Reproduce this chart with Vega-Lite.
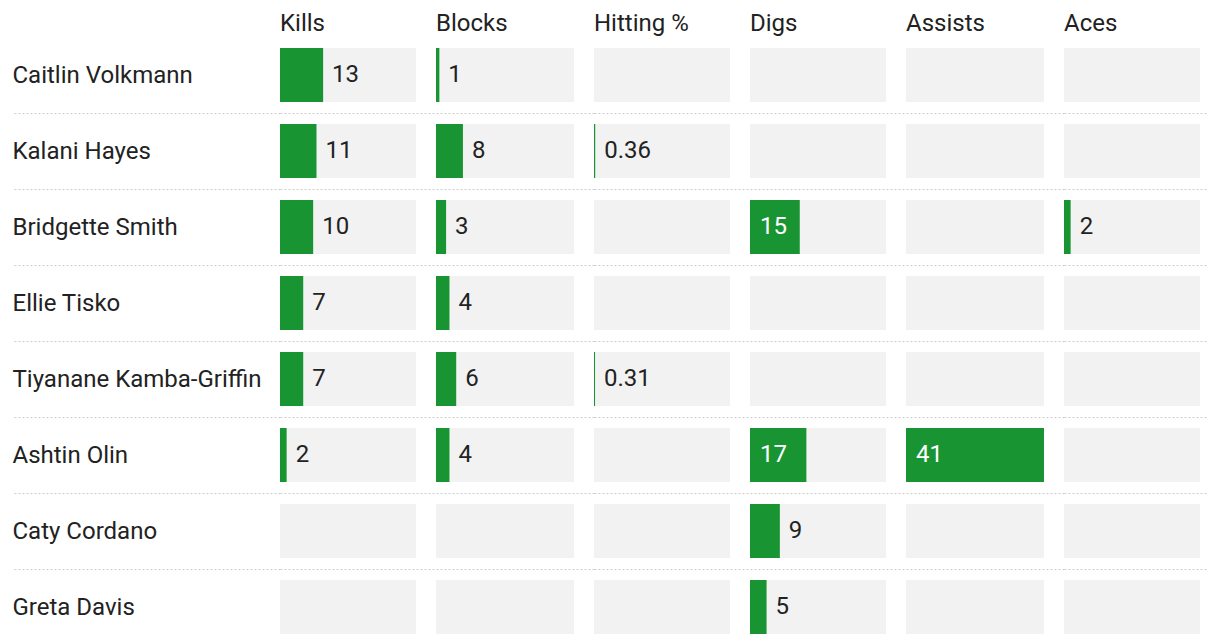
{
  "$schema": "https://vega.github.io/schema/vega-lite/v6.json",
  "padding": {"left": 11, "top": 12, "right": 0, "bottom": 0},
  "spacing": 0,
  "bounds": "flush",
  "resolve": {"scale": {"x": "independent", "y": "independent"}},
  "data": {"values": [
    {"player": "Caitlin Volkmann", "stat": "Kills", "value": 13},
    {"player": "Caitlin Volkmann", "stat": "Blocks", "value": 1},
    {"player": "Caitlin Volkmann", "stat": "Hitting %", "value": null},
    {"player": "Caitlin Volkmann", "stat": "Digs", "value": null},
    {"player": "Caitlin Volkmann", "stat": "Assists", "value": null},
    {"player": "Caitlin Volkmann", "stat": "Aces", "value": null},
    {"player": "Kalani Hayes", "stat": "Kills", "value": 11},
    {"player": "Kalani Hayes", "stat": "Blocks", "value": 8},
    {"player": "Kalani Hayes", "stat": "Hitting %", "value": 0.36},
    {"player": "Kalani Hayes", "stat": "Digs", "value": null},
    {"player": "Kalani Hayes", "stat": "Assists", "value": null},
    {"player": "Kalani Hayes", "stat": "Aces", "value": null},
    {"player": "Bridgette Smith", "stat": "Kills", "value": 10},
    {"player": "Bridgette Smith", "stat": "Blocks", "value": 3},
    {"player": "Bridgette Smith", "stat": "Hitting %", "value": null},
    {"player": "Bridgette Smith", "stat": "Digs", "value": 15},
    {"player": "Bridgette Smith", "stat": "Assists", "value": null},
    {"player": "Bridgette Smith", "stat": "Aces", "value": 2},
    {"player": "Ellie Tisko", "stat": "Kills", "value": 7},
    {"player": "Ellie Tisko", "stat": "Blocks", "value": 4},
    {"player": "Ellie Tisko", "stat": "Hitting %", "value": null},
    {"player": "Ellie Tisko", "stat": "Digs", "value": null},
    {"player": "Ellie Tisko", "stat": "Assists", "value": null},
    {"player": "Ellie Tisko", "stat": "Aces", "value": null},
    {"player": "Tiyanane Kamba-Griffin", "stat": "Kills", "value": 7},
    {"player": "Tiyanane Kamba-Griffin", "stat": "Blocks", "value": 6},
    {"player": "Tiyanane Kamba-Griffin", "stat": "Hitting %", "value": 0.31},
    {"player": "Tiyanane Kamba-Griffin", "stat": "Digs", "value": null},
    {"player": "Tiyanane Kamba-Griffin", "stat": "Assists", "value": null},
    {"player": "Tiyanane Kamba-Griffin", "stat": "Aces", "value": null},
    {"player": "Ashtin Olin", "stat": "Kills", "value": 2},
    {"player": "Ashtin Olin", "stat": "Blocks", "value": 4},
    {"player": "Ashtin Olin", "stat": "Hitting %", "value": null},
    {"player": "Ashtin Olin", "stat": "Digs", "value": 17},
    {"player": "Ashtin Olin", "stat": "Assists", "value": 41},
    {"player": "Ashtin Olin", "stat": "Aces", "value": null},
    {"player": "Caty Cordano", "stat": "Kills", "value": null},
    {"player": "Caty Cordano", "stat": "Blocks", "value": null},
    {"player": "Caty Cordano", "stat": "Hitting %", "value": null},
    {"player": "Caty Cordano", "stat": "Digs", "value": 9},
    {"player": "Caty Cordano", "stat": "Assists", "value": null},
    {"player": "Caty Cordano", "stat": "Aces", "value": null},
    {"player": "Greta Davis", "stat": "Kills", "value": null},
    {"player": "Greta Davis", "stat": "Blocks", "value": null},
    {"player": "Greta Davis", "stat": "Hitting %", "value": null},
    {"player": "Greta Davis", "stat": "Digs", "value": 5},
    {"player": "Greta Davis", "stat": "Assists", "value": null},
    {"player": "Greta Davis", "stat": "Aces", "value": null}
  ]},
  "hconcat": [
    {
      "width": 156, "height": 608,
      "title": "Kills",
      "transform": [{"filter": "datum.stat == 'Kills'"}],
      "encoding": {"y": {"field": "player", "type": "nominal", "sort": null, "scale": {"paddingInner": 0, "paddingOuter": 0},
        "axis": {"labels": true, "labelAlign": "left", "labelPadding": 0, "labelLimit": 0, "labelFont": "Roboto", "labelColor": "#222",
          "labelFontSize": {"condition": {"test": "!isValid(datum.value)", "value": 0}, "value": 24},
          "ticks": true, "tickSize": 268, "tickDash": [2, 2], "tickColor": "#cccccc", "tickWidth": 1,
          "tickOpacity": {"condition": {"test": "!isValid(datum.value)", "value": 0}, "value": 1},
          "gridOpacity": {"condition": {"test": "!isValid(datum.value)", "value": 0}, "value": 1}}}},
      "layer": [
        {"mark": {"type": "bar", "color": "#f2f2f2", "height": {"band": 0.7105}}, "encoding": {"x": {"datum": 0, "type": "quantitative", "scale": {"domain": [0, 47.03], "nice": false}, "axis": null}, "x2": {"datum": 41}}},
        {"mark": {"type": "bar", "color": "#189532", "height": {"band": 0.7105}}, "encoding": {"x": {"field": "value", "type": "quantitative", "axis": null}}},
        {"transform": [{"filter": "isValid(datum.value) && datum.value < 15"}], "mark": {"type": "text", "dx": 9}, "encoding": {"x": {"field": "value", "type": "quantitative", "axis": null}, "text": {"field": "value", "type": "quantitative"}}},
        {"transform": [{"filter": "isValid(datum.value) && datum.value >= 15"}], "mark": {"type": "text", "dx": 10, "color": "#ffffff"}, "encoding": {"x": {"datum": 0, "type": "quantitative", "axis": null}, "text": {"field": "value", "type": "quantitative"}}}
      ]
    },
    {
      "width": 158, "height": 608,
      "title": "Blocks",
      "transform": [{"filter": "datum.stat == 'Blocks'"}],
      "encoding": {"y": {"field": "player", "type": "nominal", "sort": null, "scale": {"paddingInner": 0, "paddingOuter": 0},
        "axis": {"gridOpacity": {"condition": {"test": "!isValid(datum.value)", "value": 0}, "value": 1}}}},
      "layer": [
        {"mark": {"type": "bar", "color": "#f2f2f2", "height": {"band": 0.7105}}, "encoding": {"x": {"datum": 0, "type": "quantitative", "scale": {"domain": [0, 46.94], "nice": false}, "axis": null}, "x2": {"datum": 41}}},
        {"mark": {"type": "bar", "color": "#189532", "height": {"band": 0.7105}}, "encoding": {"x": {"field": "value", "type": "quantitative", "axis": null}}},
        {"transform": [{"filter": "isValid(datum.value) && datum.value < 15"}], "mark": {"type": "text", "dx": 9}, "encoding": {"x": {"field": "value", "type": "quantitative", "axis": null}, "text": {"field": "value", "type": "quantitative"}}},
        {"transform": [{"filter": "isValid(datum.value) && datum.value >= 15"}], "mark": {"type": "text", "dx": 10, "color": "#ffffff"}, "encoding": {"x": {"datum": 0, "type": "quantitative", "axis": null}, "text": {"field": "value", "type": "quantitative"}}}
      ]
    },
    {
      "width": 156, "height": 608,
      "title": "Hitting %",
      "transform": [{"filter": "datum.stat == 'Hitting %'"}],
      "encoding": {"y": {"field": "player", "type": "nominal", "sort": null, "scale": {"paddingInner": 0, "paddingOuter": 0},
        "axis": {"gridOpacity": {"condition": {"test": "!isValid(datum.value)", "value": 0}, "value": 1}}}},
      "layer": [
        {"mark": {"type": "bar", "color": "#f2f2f2", "height": {"band": 0.7105}}, "encoding": {"x": {"datum": 0, "type": "quantitative", "scale": {"domain": [0, 47.03], "nice": false}, "axis": null}, "x2": {"datum": 41}}},
        {"mark": {"type": "bar", "color": "#189532", "height": {"band": 0.7105}}, "encoding": {"x": {"field": "value", "type": "quantitative", "axis": null}}},
        {"transform": [{"filter": "isValid(datum.value) && datum.value < 15"}], "mark": {"type": "text", "dx": 9}, "encoding": {"x": {"field": "value", "type": "quantitative", "axis": null}, "text": {"field": "value", "type": "quantitative"}}},
        {"transform": [{"filter": "isValid(datum.value) && datum.value >= 15"}], "mark": {"type": "text", "dx": 10, "color": "#ffffff"}, "encoding": {"x": {"datum": 0, "type": "quantitative", "axis": null}, "text": {"field": "value", "type": "quantitative"}}}
      ]
    },
    {
      "width": 156, "height": 608,
      "title": "Digs",
      "transform": [{"filter": "datum.stat == 'Digs'"}],
      "encoding": {"y": {"field": "player", "type": "nominal", "sort": null, "scale": {"paddingInner": 0, "paddingOuter": 0},
        "axis": {"gridOpacity": {"condition": {"test": "!isValid(datum.value)", "value": 0}, "value": 1}}}},
      "layer": [
        {"mark": {"type": "bar", "color": "#f2f2f2", "height": {"band": 0.7105}}, "encoding": {"x": {"datum": 0, "type": "quantitative", "scale": {"domain": [0, 47.03], "nice": false}, "axis": null}, "x2": {"datum": 41}}},
        {"mark": {"type": "bar", "color": "#189532", "height": {"band": 0.7105}}, "encoding": {"x": {"field": "value", "type": "quantitative", "axis": null}}},
        {"transform": [{"filter": "isValid(datum.value) && datum.value < 15"}], "mark": {"type": "text", "dx": 9}, "encoding": {"x": {"field": "value", "type": "quantitative", "axis": null}, "text": {"field": "value", "type": "quantitative"}}},
        {"transform": [{"filter": "isValid(datum.value) && datum.value >= 15"}], "mark": {"type": "text", "dx": 10, "color": "#ffffff"}, "encoding": {"x": {"datum": 0, "type": "quantitative", "axis": null}, "text": {"field": "value", "type": "quantitative"}}}
      ]
    },
    {
      "width": 158, "height": 608,
      "title": "Assists",
      "transform": [{"filter": "datum.stat == 'Assists'"}],
      "encoding": {"y": {"field": "player", "type": "nominal", "sort": null, "scale": {"paddingInner": 0, "paddingOuter": 0},
        "axis": {"gridOpacity": {"condition": {"test": "!isValid(datum.value)", "value": 0}, "value": 1}}}},
      "layer": [
        {"mark": {"type": "bar", "color": "#f2f2f2", "height": {"band": 0.7105}}, "encoding": {"x": {"datum": 0, "type": "quantitative", "scale": {"domain": [0, 46.94], "nice": false}, "axis": null}, "x2": {"datum": 41}}},
        {"mark": {"type": "bar", "color": "#189532", "height": {"band": 0.7105}}, "encoding": {"x": {"field": "value", "type": "quantitative", "axis": null}}},
        {"transform": [{"filter": "isValid(datum.value) && datum.value < 15"}], "mark": {"type": "text", "dx": 9}, "encoding": {"x": {"field": "value", "type": "quantitative", "axis": null}, "text": {"field": "value", "type": "quantitative"}}},
        {"transform": [{"filter": "isValid(datum.value) && datum.value >= 15"}], "mark": {"type": "text", "dx": 10, "color": "#ffffff"}, "encoding": {"x": {"datum": 0, "type": "quantitative", "axis": null}, "text": {"field": "value", "type": "quantitative"}}}
      ]
    },
    {
      "width": 144, "height": 608,
      "title": "Aces",
      "transform": [{"filter": "datum.stat == 'Aces'"}],
      "encoding": {"y": {"field": "player", "type": "nominal", "sort": null, "scale": {"paddingInner": 0, "paddingOuter": 0},
        "axis": {"gridOpacity": {"condition": {"test": "!isValid(datum.value)", "value": 0}, "value": 1}}}},
      "layer": [
        {"mark": {"type": "bar", "color": "#f2f2f2", "height": {"band": 0.7105}}, "encoding": {"x": {"datum": 0, "type": "quantitative", "scale": {"domain": [0, 43.41], "nice": false}, "axis": null}, "x2": {"datum": 41}}},
        {"mark": {"type": "bar", "color": "#189532", "height": {"band": 0.7105}}, "encoding": {"x": {"field": "value", "type": "quantitative", "axis": null}}},
        {"transform": [{"filter": "isValid(datum.value) && datum.value < 15"}], "mark": {"type": "text", "dx": 9}, "encoding": {"x": {"field": "value", "type": "quantitative", "axis": null}, "text": {"field": "value", "type": "quantitative"}}},
        {"transform": [{"filter": "isValid(datum.value) && datum.value >= 15"}], "mark": {"type": "text", "dx": 10, "color": "#ffffff"}, "encoding": {"x": {"datum": 0, "type": "quantitative", "axis": null}, "text": {"field": "value", "type": "quantitative"}}}
      ]
    }
  ],
  "config": {
    "view": {"stroke": null},
    "font": "Roboto",
    "title": {"anchor": "start", "frame": "group", "fontSize": 24, "fontWeight": "normal", "color": "#222222", "baseline": "alphabetic", "offset": 1, "font": "Roboto"},
    "axisY": {"title": null, "labels": false, "ticks": false, "domain": false, "grid": true, "gridDash": [2, 2], "gridColor": "#cccccc", "gridWidth": 1, "tickBand": "extent"},
    "text": {"font": "Roboto", "fontSize": 24, "color": "#222222", "align": "left", "baseline": "middle"}
  }
}
